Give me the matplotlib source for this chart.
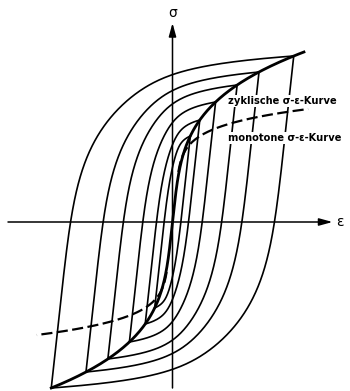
import numpy as np
import matplotlib
matplotlib.use("Agg")
import matplotlib.pyplot as plt

# stress amplitudes of the stabilised hysteresis loops (schematic units)
loop_stress_amp = [86, 102, 120, 137, 150, 166]

# material constants in the same schematic units
E = 9.2
K_cyc, exp_cyc = 49.0, 3.8      # cyclic Ramberg-Osgood curve
K_mono, exp_mono = 56.8, 7.0    # monotonic curve
cyc_range = (-166, 170)
mono_range = (50, 113)          # dashed part, after the common elastic start

labels = ["zyklische σ-ε-Kurve", "monotone σ-ε-Kurve"]


def ramberg_osgood(s, K, n_inv):
    return s / E + np.sign(s) * (np.abs(s) / K) ** n_inv


def branch_shape(x):
    # normalised plastic part of a loop branch, 0..1
    return 0.55 * x ** 6.5 + 0.45 * x ** 40


fig = plt.figure(figsize=(3.5, 3.91), dpi=100)
ax = fig.add_axes([0, 0, 1, 1])
ax.set_xlim(-172.5, 177.5)
ax.set_ylim(-169, 222)
ax.axis("off")

# hysteresis loops: loading from the lower tip, unloading from the upper tip
for sa in loop_stress_amp:
    ea = ramberg_osgood(sa, K_cyc, exp_cyc)
    d_eps_p = 2 * ea - 2 * sa / E
    ds = np.linspace(0, 2 * sa, 400)
    eps_branch = ds / E + d_eps_p * branch_shape(ds / (2 * sa))
    ax.plot(-ea + eps_branch, -sa + ds, color="k", lw=1.2)
    ax.plot(ea - eps_branch, sa - ds, color="k", lw=1.2)

# cyclic curve through the loop tips
s = np.linspace(*cyc_range, 500)
ax.plot(ramberg_osgood(s, K_cyc, exp_cyc), s, color="k", lw=2.0)

# monotonic curve, dashed
for sign in (1, -1):
    s = sign * np.linspace(*mono_range, 200)
    ax.plot(ramberg_osgood(s, K_mono, exp_mono), s, color="k", lw=1.6,
            ls=(0, (5, 2)))

# axes with arrows
arrow = dict(arrowstyle="-|>,head_length=0.8,head_width=0.22", color="k",
             lw=1.1, mutation_scale=10, shrinkA=0, shrinkB=0)
ax.annotate("", xy=(160, 0), xytext=(-164.5, 0), arrowprops=arrow)
ax.annotate("", xy=(0, 199), xytext=(0, -166), arrowprops=arrow)
ax.text(0, 209, "σ", ha="center", va="center", fontsize=10)
ax.text(167, 0, "ε", ha="center", va="center", fontsize=10)

ax.text(55.5, 121, labels[0], ha="left", va="center", fontsize=7.1,
        fontweight="bold", zorder=5,
        bbox=dict(facecolor="white", edgecolor="none", pad=0.6))
ax.text(55.5, 84, labels[1], ha="left", va="center", fontsize=7.1,
        fontweight="bold", zorder=5,
        bbox=dict(facecolor="white", edgecolor="none", pad=0.6))

fig.savefig("out.png", dpi=100)
